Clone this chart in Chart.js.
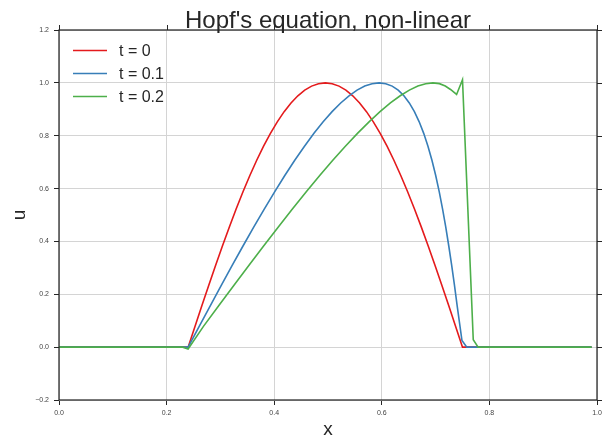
<!DOCTYPE html>
<html>
<head>
<meta charset="utf-8">
<script src="https://cdn.jsdelivr.net/npm/chart.js@4"></script>
<style>
    html, body { margin: 0; padding: 0; background: #fff; }
    #wrap { width: 608px; height: 441px; }
</style>
</head>
<body>
<div id="wrap"><canvas id="hopf" width="608" height="441"></canvas></div>
<script>
/* Values */
const seriesLabels = ["t = 0", "t = 0.1", "t = 0.2"];
const seriesColors = ["#e41a1c", "#377eb8", "#4daf4a"];

const xT0 = [0, 0.24, 0.25275, 0.2655, 0.27825, 0.291, 0.30375, 0.3165, 0.32925, 0.342, 0.35475,
    0.3675, 0.38025, 0.393, 0.40575, 0.4185, 0.43125, 0.444, 0.45675, 0.4695, 0.48225, 0.495,
    0.50775, 0.5205, 0.53325, 0.546, 0.55875, 0.5715, 0.58425, 0.597, 0.60975, 0.6225, 0.63525,
    0.648, 0.66075, 0.6735, 0.68625, 0.699, 0.71175, 0.7245, 0.73725, 0.75, 0.99];
const uT0 = [0, 0, 0.0785, 0.1564, 0.2334, 0.309, 0.3827, 0.454, 0.5225, 0.5878, 0.6494,
    0.7071, 0.7604, 0.809, 0.8526, 0.891, 0.9239, 0.9511, 0.9724, 0.9877, 0.9969, 1.0,
    0.9969, 0.9877, 0.9724, 0.9511, 0.9239, 0.891, 0.8526, 0.809, 0.7604, 0.7071, 0.6494,
    0.5878, 0.5225, 0.454, 0.3827, 0.309, 0.2334, 0.1564, 0.0785, 0, 0];

const xT1 = [0, 0.24, 0.2606, 0.2811, 0.3016, 0.3219, 0.342, 0.3619, 0.3815, 0.4008, 0.4197,
    0.4382, 0.4563, 0.4739, 0.491, 0.5076, 0.5236, 0.5391, 0.554, 0.5683, 0.5819, 0.595,
    0.6074, 0.6193, 0.6305, 0.6411, 0.6511, 0.6606, 0.6695, 0.6779, 0.6858, 0.6932, 0.7002,
    0.7068, 0.713, 0.7189, 0.7245, 0.7299, 0.7351, 0.7401, 0.749, 0.758, 0.99];
const uT1 = [0, 0, 0.0785, 0.1564, 0.2334, 0.309, 0.3827, 0.454, 0.5225, 0.5878, 0.6494,
    0.7071, 0.7604, 0.809, 0.8526, 0.891, 0.9239, 0.9511, 0.9724, 0.9877, 0.9969, 1.0,
    0.9969, 0.9877, 0.9724, 0.9511, 0.9239, 0.891, 0.8526, 0.809, 0.7604, 0.7071, 0.6494,
    0.5878, 0.5225, 0.454, 0.3827, 0.309, 0.2334, 0.1564, 0.025, 0, 0];

const xT2 = [0, 0.23, 0.24, 0.2685, 0.2968, 0.3249, 0.3528, 0.3803, 0.4073, 0.4338, 0.4596, 0.4846,
    0.5089, 0.5323, 0.5548, 0.5763, 0.5967, 0.616, 0.6342, 0.6512, 0.667, 0.6816, 0.695,
    0.7071, 0.718, 0.7277, 0.739, 0.75, 0.77, 0.779, 0.99];
const uT2 = [0, 0, -0.007, 0.0785, 0.1564, 0.2334, 0.309, 0.3827, 0.454, 0.5225, 0.5878, 0.6494,
    0.7071, 0.7604, 0.809, 0.8526, 0.891, 0.9239, 0.9511, 0.9724, 0.9877, 0.9969, 1.0,
    0.997, 0.988, 0.975, 0.956, 1.012, 0.028, 0, 0];

const xTicks = [0, 0.2, 0.4, 0.6, 0.8, 1.0];
const yTicks = [-0.2, 0, 0.2, 0.4, 0.6, 0.8, 1.0, 1.2];

const pairs = (xs, ys) => xs.map((x, i) => ({ x: x, y: ys[i] }));
const fmt = v => {
    const s = Math.abs(v).toFixed(1);
    return v < -1e-9 ? "\u2212" + s : s;
};

/* title, frame, mirrored ticks and the legend inside the plot */
const decor = {
    id: "decor",
    afterDraw(chart) {
        const ctx = chart.ctx;
        const a = chart.chartArea;
        const xs = chart.scales.x, ys = chart.scales.y;
        ctx.save();

        ctx.strokeStyle = "#262626";
        ctx.lineWidth = 1.25;
        ctx.strokeRect(a.left, a.top, a.right - a.left, a.bottom - a.top);

        ctx.lineWidth = 1;
        ctx.beginPath();
        xTicks.forEach(v => {
            const px = Math.round(xs.getPixelForValue(v)) + 0.5;
            ctx.moveTo(px, a.top);
            ctx.lineTo(px, a.top - 5);
        });
        yTicks.forEach(v => {
            const py = Math.round(ys.getPixelForValue(v)) + 0.5;
            ctx.moveTo(a.right, py);
            ctx.lineTo(a.right + 5, py);
        });
        ctx.stroke();

        ctx.fillStyle = "#262626";
        ctx.font = "24px 'Liberation Sans', Arial, sans-serif";
        ctx.textAlign = "center";
        ctx.textBaseline = "alphabetic";
        ctx.fillText("Hopf's equation, non-linear", (a.left + a.right) / 2, 28);

        ctx.font = "16px 'Liberation Sans', Arial, sans-serif";
        ctx.textAlign = "left";
        ctx.textBaseline = "middle";
        chart.data.datasets.forEach((ds, i) => {
            const y = 50.5 + i * 23;
            ctx.strokeStyle = ds.borderColor;
            ctx.lineWidth = 1.6;
            ctx.beginPath();
            ctx.moveTo(73, y);
            ctx.lineTo(107, y);
            ctx.stroke();
            ctx.fillStyle = "#262626";
            ctx.fillText(ds.label, 119, y + 1);
        });
        ctx.restore();
    }
};

new Chart(document.getElementById("hopf"), {
    type: "scatter",
    data: {
        datasets: [
            { label: seriesLabels[0], data: pairs(xT0, uT0) },
            { label: seriesLabels[1], data: pairs(xT1, uT1) },
            { label: seriesLabels[2], data: pairs(xT2, uT2) }
        ].map((ds, i) => Object.assign(ds, {
            showLine: true,
            borderColor: seriesColors[i],
            backgroundColor: seriesColors[i],
            borderWidth: 1.6,
            pointRadius: 0,
            tension: 0,
            order: 3 - i   // later series drawn on top, like matplotlib
        }))
    },
    options: {
        responsive: false,
        animation: false,
        layout: { padding: { top: 30, right: 11, left: 0, bottom: 0 } },
        plugins: {
            legend: { display: false },
            title: { display: false },
            tooltip: { enabled: false }
        },
        scales: {
            x: {
                type: "linear",
                min: 0,
                max: 1,
                afterBuildTicks: s => { s.ticks = xTicks.map(v => ({ value: v })); },
                afterFit: s => { s.height = 41; },
                grid: { color: "#d4d4d4", lineWidth: 1, tickColor: "#262626", tickLength: 5 },
                border: { display: false },
                ticks: {
                    color: "#444",
                    font: { size: 7, family: "'Liberation Sans', Arial, sans-serif" },
                    padding: 4,
                    maxRotation: 0,
                    callback: v => fmt(v)
                },
                title: {
                    display: true,
                    text: "x",
                    color: "#262626",
                    font: { size: 19, family: "'Liberation Sans', Arial, sans-serif" },
                    padding: { top: 0, bottom: 0 }
                }
            },
            y: {
                type: "linear",
                min: -0.2,
                max: 1.2,
                afterBuildTicks: s => { s.ticks = yTicks.map(v => ({ value: v })); },
                afterFit: s => { s.width = 59; },
                grid: { color: "#d4d4d4", lineWidth: 1, tickColor: "#262626", tickLength: 5 },
                border: { display: false },
                ticks: {
                    color: "#444",
                    font: { size: 7, family: "'Liberation Sans', Arial, sans-serif" },
                    padding: 5,
                    callback: v => fmt(v)
                },
                title: {
                    display: true,
                    text: "u",
                    color: "#262626",
                    font: { size: 19, family: "'Liberation Sans', Arial, sans-serif" },
                    padding: { top: 8, bottom: 0 }
                }
            }
        }
    },
    plugins: [decor]
});
</script>
</body>
</html>
